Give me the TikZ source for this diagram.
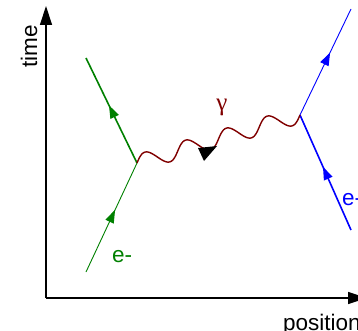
\documentclass[tikz,border=0pt]{standalone}
\usepackage{fontspec}
\setmainfont{Liberation Sans}
\newfontfamily\gamfont{Liberation Serif}
\usetikzlibrary{arrows.meta,calc,decorations.markings}
\definecolor{fgreen}{RGB}{0,128,0}
\definecolor{fblue}{RGB}{0,0,255}
\definecolor{fred}{RGB}{128,0,0}
\tikzset{
  midarrow/.style={postaction={decorate},decoration={markings,
     mark=at position #1 with {\arrow{Triangle[length=13pt,width=9pt]}}}},
  axis/.style={line width=1.3pt,-{Triangle[length=19pt,width=12pt]}},
  lbl/.style={inner sep=0pt,font=\fontsize{22.5}{26}\selectfont},
}
\begin{document}
\begin{tikzpicture}[x=1pt,y=-1pt]
\useasboundingbox (0,0) rectangle (358,331);
% named points
\coordinate (O) at (46,298);
\coordinate (T) at (46,6);
\coordinate (X) at (367,298);
\coordinate (v1) at (137,163);
\coordinate (v2) at (300,115);
\coordinate (g0) at (86,272);
\coordinate (g1) at (86,58);
\coordinate (b0) at (351,230);
\coordinate (b1) at (351,9);
% axes
\draw[axis] (O) -- (T);
\draw[axis] (O) -- (X);
\node[lbl,rotate=90,anchor=base] (tl) at (37,46.5) {time};
\node[lbl,anchor=base west] (pl) at (283,330) {position};
% electron lines
\draw[fgreen,line width=0.9pt,midarrow=0.57] (g0) -- (v1);
\draw[fgreen,line width=1.6pt,midarrow=0.55] (v1) -- (g1);
\draw[fblue,line width=1.6pt,midarrow=0.55] (b0) -- (v2);
\draw[fblue,line width=0.9pt,midarrow=0.59] (v2) -- (b1);
\node[lbl,text=fgreen,anchor=base west] (el) at (112,262) {e-};
\node[lbl,text=fblue,anchor=base west] (er) at (342,205) {e-};
% photon from (v1) to (v2)
\draw[fred,line width=1.4pt] (v1) -- plot[domain=0:1,samples=240,smooth]
  ({137+163*\x-0.28248*8.2*sin(1440*\x)},
   {163-48*\x-0.95926*8.2*sin(1440*\x)}) -- (v2);
\node[inner sep=0pt,text=fred,font=\gamfont\fontsize{25}{28}\selectfont] (gam) at (222,107) {γ};
\fill[black] (198,148) -- (217,146) -- (204,161) -- cycle;
\end{tikzpicture}
\end{document}
